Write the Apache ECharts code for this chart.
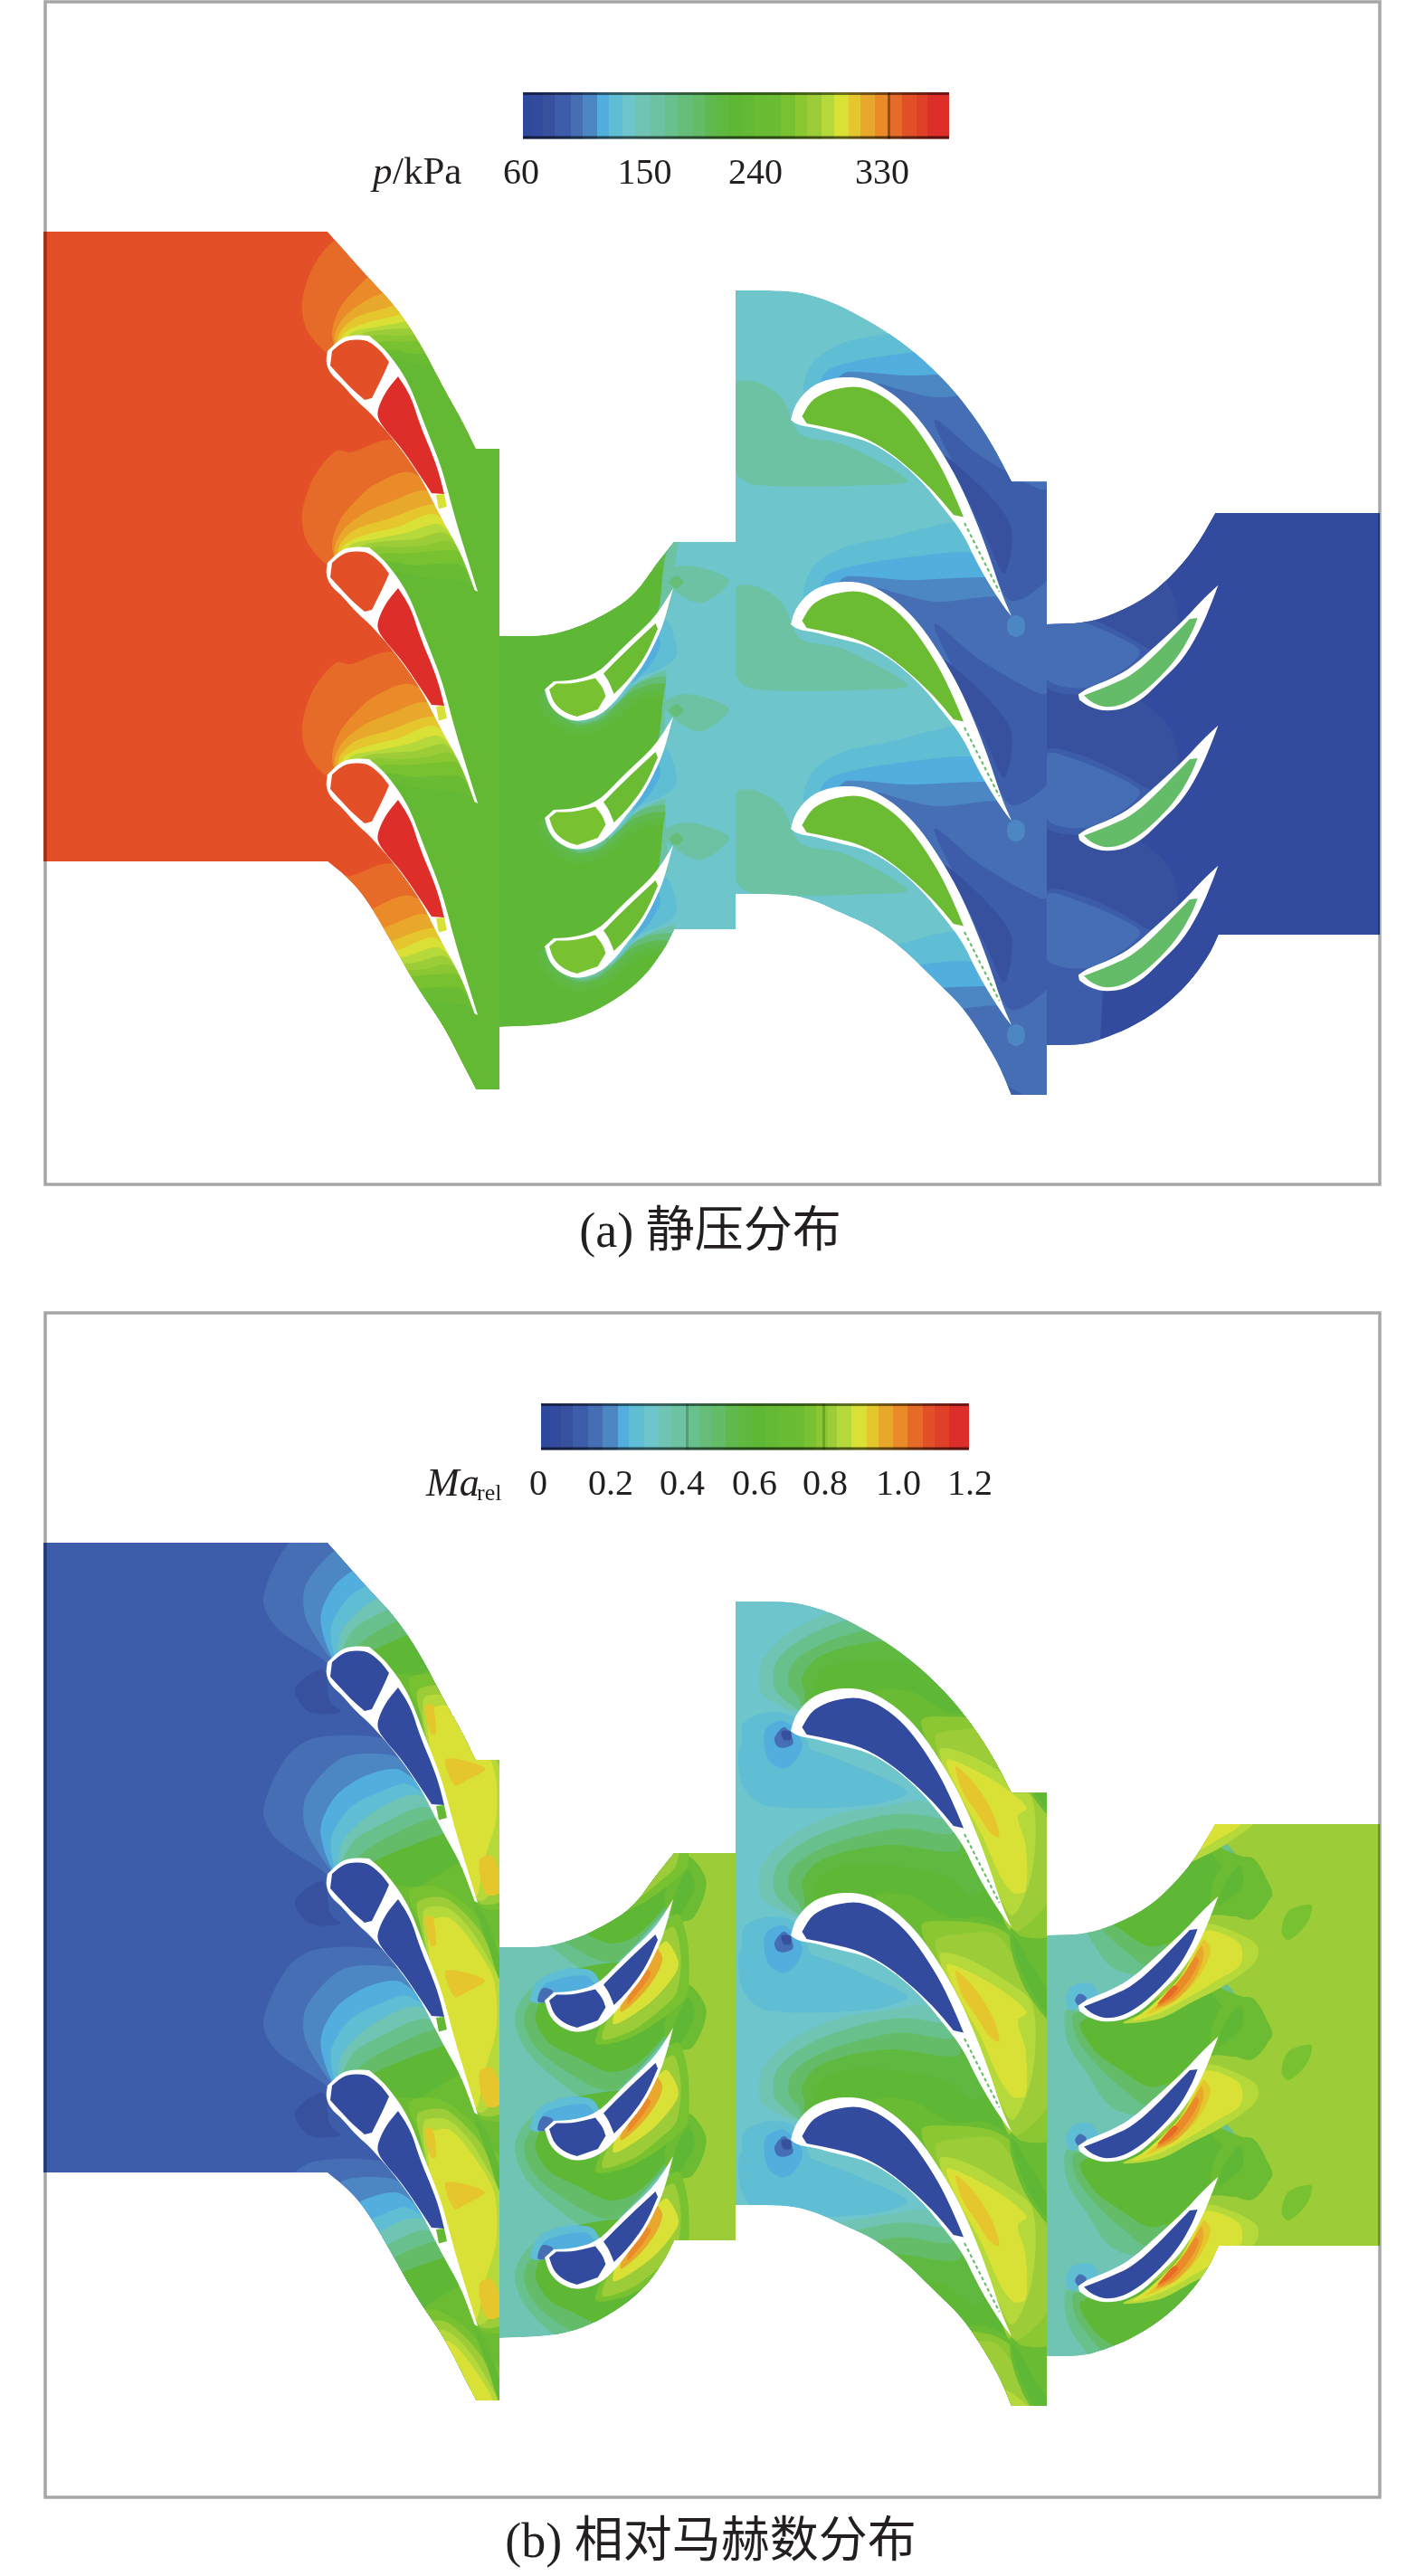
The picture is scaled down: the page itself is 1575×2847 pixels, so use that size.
<!DOCTYPE html>
<html>
<head>
<meta charset="utf-8">
<title>涡轮级静压与相对马赫数分布</title>
<style>html,body{margin:0;padding:0;background:#fff}#chart{width:1575px;height:2847px}</style>
<script src="https://cdn.jsdelivr.net/npm/echarts@6/dist/echarts.min.js"></script>
</head>
<body>
<div id="chart"></div>
<script>
// 32-level contour palette shared by both fields
const levelColors = ['#2e4a9c','#334b9e','#37519f','#3d5ca9','#456eb4','#4c87c4','#52aedd','#5fbdd4',
  '#6ec5cb','#70c4b4','#6cc2a2','#68c08c','#65bd78','#64bc68','#60b94e','#5fb83f',
  '#5fb736','#63b934','#69bb33','#6cbc33','#78c130','#8bc733','#9ccd38','#b5d83a',
  '#dae136','#e5c62d','#e8a82c','#ea8a28','#e76b28','#e35027','#e03f28','#dd2e29'];

// Colour bars: level boundaries along the bar, ticks and labels
const barStopsP = [578,586.6,600.4,613.4,630.8,644.2,659.8,673.2,688.4,701.8,719.2,734.8,748.7,764.7,778.6,791.5,806.3,819.6,833,848.7,863,879,892,908,921.9,938,951,967,984,997,1012.5,1025,1049];
const barStopsMa = [598,607.5,620,633.4,650,666.4,683,695.4,712.4,728.4,742.3,759.3,774,787,802,815.3,830.7,845.5,859.7,874.5,888.8,902,914.5,925.3,941,958,970.5,987,1003,1020,1032.5,1048.6,1071];
const tickLabelsP = ['60','150','240','330'];
const tickXP = [576,712.5,835,975];
const tickLabelsMa = ['0','0.2','0.4','0.6','0.8','1.0','1.2'];
const tickXMa = [595,675,754,834,912,993,1072];

// Local mesh sheets: scale and origin of the measured passage drawings
const sheet = (sx, sy, ox, oy) => list => list.map(p => [ox + p[0] / sx, oy + p[1] / sy]);
const sheetA2 = sheet(1.96, 2.01, 0, 650);
const sheetB2 = sheet(1.96, 2.187, 0, 2130);
const sheetB3 = sheet(1.972, 2.187, 780, 2130);

// Domain outlines of the four blade rows
const outlineRow1 = [[48,256],[362,256],[408,308],[434,335],[462,375],[490,429],[510,464],[525.5,496],[552,496],[552,1204],[526.5,1204],[510,1172],[490,1132.6],[459,1088],[434,1043],[408,998],[388,973],[362,952],[48,952]];
const outlineRow2 = [[552,703],[602,703],[633,695],[663,682],[699,660],[724,625],[745,599],[813,599],[813,1027],[745,1027],[735,1048],[714,1078],[684,1103],[648,1122.6],[612,1132.6],[552,1135]];
const outlineRow3 = [[813,321],[875,321],[907,329],[937,341.5],[983,368],[1018,395],[1054,431],[1079,464],[1099,495.5],[1118,532.6],[1157,532.6],[1157,1210],[1118,1210],[1104.5,1177],[1084,1142.5],[1064,1112.7],[1033.5,1083],[998,1048],[962.5,1023],[927,1008],[902,996],[871,988],[813,988]];
const outlineRow4 = [[1157,690],[1196,689],[1226,681],[1267,661],[1297,634],[1322.6,603],[1343,567],[1525,567],[1525,1033],[1347,1033],[1338,1053],[1317.5,1083],[1287,1112.7],[1251.6,1135],[1221,1147.5],[1196,1155],[1157,1155]];
const panelShift = 1449;

// Blade sections: white wall outline and the solid cavities inside it
const bladeRow1Wall = [[362,388],[377.5,373],[393,370],[408,371],[423.5,384],[434,397],[444,411],[454,429],[464,455],[474.5,482],[485,509],[492,531],[502.5,571],[515,612],[528,654],[524.5,652],[510,612],[484.7,567],[467,531],[449,504],[428.6,478],[408,455],[393,442],[377.5,424],[365,413],[360,400]];
const bladeRow1Front = [[367,388],[380,377],[395,375],[408,377],[421,388],[430,400],[423.5,415],[411,440],[403,442],[390,431],[375,415],[365,404]];
const bladeRow1Rear = [[440,416],[454,437.5],[464,469],[477,500],[485,522],[491,546],[477,545],[462,522],[444,495.5],[428.6,478],[418,464],[417,453],[426,433]];
const bladeRow1Tail = [[482,547],[491,546],[494,560],[485,562.5]];
const bladeRow2Wall = [[602,762],[612,753],[632.7,752],[660.7,744.5],[689,714.7],[724.5,682],[744,650],[734.7,685],[727,704.7],[711.7,734.6],[694,757],[678.6,777],[660.7,792],[637.8,798],[620,792],[607,779]];
const bladeRow2Front = [[607,762],[615,755.5],[632.7,755.5],[658,749.5],[666,759.5],[669.4,769.4],[660.7,784],[637.8,792],[625,788],[612,777]];
const bladeRow2Rear = [[667,744.5],[689,722],[724.5,689],[727,695],[714,724.6],[694,752],[678.6,767],[672.4,752]];
const bladeRow3Wall = [[874,464],[879,446],[897,426],[922,417],[952.4,417],[978,428.6],[1003,448.6],[1023.4,473],[1043.7,504],[1061.4,535.7],[1079,576],[1094,616],[1107,656],[1118,681],[1112,674],[1094,647],[1079,620.5],[1064,589],[1043.7,562.5],[1018,531],[988,504.5],[957.5,486.6],[927,480],[901.7,473],[881.4,469.6]];
const bladeRow3Core = [[886.5,460],[896.6,442],[917,431],[947.3,426],[972.7,435],[998,455],[1018,480],[1038.6,513],[1053.8,544.6],[1065,571.4],[1053.8,569],[1033.6,544.6],[1008,520],[977.8,495.5],[947.3,480],[917,473],[891.6,468]];
const bladeRow3Slot = [[1066,578],[1104.5,654]];
const bladeRow4Wall = [[1191.8,922.6],[1201,916],[1226,906],[1249,894],[1277,869],[1307.4,841.5],[1330,816.7],[1346.4,801.7],[1340,819],[1327.7,849],[1307.4,884],[1282,908.7],[1261.7,928.6],[1241.5,938.6],[1221,941],[1203.4,936],[1193,928.6]];
const bladeRow4Core = [[1198,923.6],[1226,912.7],[1251.6,901],[1279.5,876],[1315,839],[1323.6,838],[1317.5,854],[1302,881],[1279.5,906],[1259,923.6],[1239,934.6],[1221,937],[1206,931]];
const pitchRow1 = [0,234,468];
const pitchRow2 = [0,142,284];
const pitchRow3 = [0,226,452];
const pitchRow4 = [-155,0,155];

// Passage closures running through the neighbouring blades and past the outlet
const closeRow1 = [[516,620],[530,654],[560,654],[560,888],[530,888],[505,830],[478,735],[455,680],[430,640],[400,620],[375,625]];
const closeRow3 = [[1094,640],[1118,681],[1170,681],[1170,907],[1118,907],[1085,820],[1040,756],[1000,696],[950,676],[900,676]];
const up = (pts, dy) => pts.map(p => [p[0], p[1] + dy]);

// Static pressure contours, stator passage (levels upstream to downstream)
const pressureRow1 = [
  [28,[[362,625],[339,598],[334,567],[347,527],[372,498],[388,500],[423,487],[445,490],[495,560]].concat(closeRow1)],
  [27,[[367,603],[375,576],[393,553.6],[413,536],[454,522],[495,560]].concat(closeRow1)],
  [26,[[370,605],[380,585],[403,567],[434,553.6],[469,542],[495,560]].concat(closeRow1)],
  [25,[[375,603],[393,585],[428.6,573.7],[474.5,558],[495,565]].concat(closeRow1)],
  [24,[[380,603],[403,591.5],[439,582.6],[482,569]].concat(closeRow1)],
  [23,[[388,602],[413,596],[449,589],[487,580]].concat(closeRow1)],
  [22,[[400,603],[428.6,598],[459,596],[492,589]].concat(closeRow1)],
  [21,[[413,605],[439,605],[469,603],[497,598]].concat(closeRow1)],
  [20,[[423.5,611.6],[449,611.6],[479.6,609],[505,609]].concat(closeRow1)],
  [18,[[431,620.5],[459,625],[485,623],[510,625]].concat(closeRow1.slice(1))],
  [17,[[439,632],[469,638],[513,643]].concat(closeRow1.slice(1))]
];
const pressureRow1Offsets = [-234,0,234,468];

// Static pressure contours, first rotor passage
const pressureRow2 = [
  [15,sheetA2([[1165,240],[1180,285],[1240,325],[1310,310],[1385,250],[1430,240],[1460,245],[1640,245],[1640,-50],[1458,-50],[1420,70],[1350,135],[1295,195],[1240,215],[1190,225]])],
  [14,sheetA2([[1175,235],[1195,280],[1245,310],[1305,298],[1375,240],[1430,225],[1465,232],[1640,232],[1640,-60],[1458,-60],[1420,70],[1350,135],[1295,195],[1240,215],[1190,225]])],
  [12,sheetA2([[1180,235],[1205,275],[1250,303],[1300,292],[1365,232],[1420,212],[1470,215],[1640,215],[1640,-80],[1458,-80],[1420,70],[1350,135],[1295,195],[1240,215],[1190,225]])],
  [10,sheetA2([[1190,235],[1215,275],[1255,298],[1300,286],[1355,228],[1410,200],[1465,195],[1640,195],[1640,-100],[1458,-100],[1420,70],[1350,135],[1295,195],[1240,215]])]
];
const pressureRow2Outer = [[752,585],[830,585],[830,1040],[748,1040]];
const pressureRow2Near = [
  [8,sheetA2([[1320,270],[1375,215],[1420,190],[1468,170],[1500,100],[1470,-10],[1440,70],[1380,170]])],
  [7,sheetA2([[1340,255],[1385,200],[1430,180],[1465,150],[1455,90],[1440,70],[1425,100],[1395,170]])],
  [6,sheetA2([[1370,210],[1405,175],[1430,130],[1425,105],[1395,170]])]
];
const pressureRow2Wake = [
  [10,sheetA2([[1437,260],[1465,238],[1520,240],[1580,270],[1520,318],[1465,295]])],
  [12,sheetA2([[1450,272],[1465,258],[1480,272],[1465,286]])]
];
const pressureRow2Offsets = [-142,0,142,284];

// Static pressure contours, second stator passage
const pressureRow3Lobe = [[814,424],[836,422],[864,440],[885,480],[932,491],[1003,531],[968,536],[836,536],[814,522]];
const pressureRow3 = [
  [7,[[888,657],[899,626],[932,605],[983,594],[1047,578],[1068,580]].concat(closeRow3)],
  [6,[[912,638],[937,627],[1003,616],[1080,612]].concat(closeRow3)],
  [5,[[925,645],[937,637],[1003,641],[1084,638]].concat(closeRow3)],
  [4,[[965,650],[993,656],[1034,665],[1110,660]].concat(closeRow3.slice(1))],
  [3,[[1033,690],[1084,730],[1150,767],[1170,767],[1170,850],[1118,890],[1090,830],[1064,760]]],
  [2,[[1044,730],[1090,770],[1118,810],[1110,860],[1090,820],[1060,760]]]
];
const pressureRow3Offsets = [-226,0,226,452];
const pressureRow3Vortex = [[1115,684],[1123,680],[1131,684],[1133,692],[1131,700],[1123,704],[1115,700],[1113,692]];

// Static pressure contours, second rotor passage
const pressureRow4Inlet = [[1157,680],[1200,680],[1215,1160],[1157,1160]];
const pressureRow4 = [
  [2,[[1157,760],[1230,760],[1290,800],[1300,850],[1240,900],[1157,900]]],
  [3,[[1157,830],[1196,835],[1240,855],[1267,871],[1290,880],[1250,915],[1157,915]]],
  [4,[[1157,834],[1190,840],[1236,859],[1260,875],[1245,893],[1200,915],[1157,905]]]
];
const pressureRow4Offsets = [-155,0,155];

// Relative Mach number contours, stator passage
const closeRow1Ma = up(closeRow1, panelShift);
const machRow1Lens = [[326,2101],[357,2079],[365,2115],[377,2126],[342,2126]];
const machRow1 = [
  [4,[[362,2073],[357,2068],[306,2033],[291,2001],[316,1943],[347,1921],[418,1920],[445,1939],[495,2009]].concat(closeRow1Ma)],
  [5,[[360,2059.5],[337,2019],[339,1983.6],[377.5,1943],[428.6,1939],[450,1950],[495,2009]].concat(closeRow1Ma)],
  [6,[[362,2055],[354.6,2019],[372.4,1983.6],[408,1961],[444,1957],[495,2009]].concat(closeRow1Ma)],
  [7,[[367,2053],[367,2028],[388,1997],[423.5,1979],[451.5,1972],[495,2009]].concat(closeRow1Ma)],
  [9,[[375,2048],[380,2032.7],[408,2006],[459,1983.6],[495,2009]].concat(closeRow1Ma)],
  [11,[[382.6,2048],[393,2032.7],[423.5,2015],[467,1997],[495,2009]].concat(closeRow1Ma)],
  [13,[[403,2046],[433.7,2028],[477,2010],[498,2015]].concat(closeRow1Ma)],
  [16,[[418,2055],[449,2041.6],[487,2028],[500,2025]].concat(closeRow1Ma)],
  [19,[[460,2085],[480,2075],[505,2060],[512,2060]].concat(closeRow1Ma.slice(1))],
  [20,[[452,2090],[482,2085],[515,2105],[537,2132],[560,2165],[560,2340],[530,2340],[505,2279],[478,2184],[465,2130]]],
  [22,[[462,2102],[490,2097],[510,2111],[530.6,2134],[552,2170],[560,2170],[560,2330],[530,2337],[505,2279],[478,2184],[465,2130]]],
  [23,[[468,2112],[493,2108],[518,2130],[540,2165],[556,2200],[556,2300],[530,2335],[505,2279],[478,2184]]],
  [24,[[474.5,2125],[497,2120],[525.5,2152],[546,2189],[548.5,2243],[535.7,2289],[525.5,2330],[505,2279],[490,2220],[478,2184]]],
  [25,[[492,2179],[510,2179],[536,2189],[515,2202],[502.5,2207]]],
  [25,[[530.6,2289],[543,2285],[552,2303],[552,2326],[538,2328],[530.6,2307]]],
  [25,[[470,2120],[478,2118],[482,2150],[476,2150]]],
  [17,[[524,2338],[535,2351],[552,2396],[552,2421],[540,2386]]]
];
const machRow1Offsets = [-234,0,234,468];

// Relative Mach number contours, first rotor passage
const machRow2Outer = [[750,2040],[820,2040],[820,2490],[746,2490],[752,2300]];
const machRow2 = [
  [11,sheetB2([[1140,470],[1115,530],[1135,600],[1190,665],[1290,740],[1330,720],[1460,560],[1500,520],[1490,470],[1400,400],[1300,400],[1200,430]])],
  [13,sheetB2([[1155,480],[1135,535],[1160,600],[1215,650],[1295,700],[1340,700],[1460,555],[1490,510],[1480,470],[1400,400],[1300,400],[1200,430]])],
  [16,sheetB2([[1170,490],[1160,535],[1190,590],[1250,625],[1320,660],[1380,640],[1455,550],[1470,510],[1460,470],[1400,400],[1300,400],[1200,430]])]
];
const machRow2Cloud = [
  [19,sheetB2([[1455,290],[1440,230],[1490,140],[1530,200],[1500,290]])],
  [16,sheetB2([[1460,240],[1490,170],[1505,210],[1480,270],[1460,290]])],
  [20,sheetB2([[1290,590],[1360,580],[1430,535],[1470,500],[1490,470],[1490,350],[1470,280],[1440,300],[1400,380],[1340,470]])],
  [22,sheetB2([[1305,580],[1370,560],[1430,510],[1465,470],[1475,380],[1460,310],[1430,330],[1390,400],[1340,480]])],
  [24,sheetB2([[1330,545],[1400,500],[1445,450],[1470,400],[1445,345],[1425,360],[1385,420],[1340,490]])],
  [26,sheetB2([[1345,515],[1385,480],[1420,430],[1435,385],[1420,360],[1395,410],[1355,470]])],
  [27,sheetB2([[1360,495],[1395,450],[1410,420],[1395,415],[1365,465]])]
];
const machRow2Nose = [
  [7,sheetB2([[1150,490],[1165,440],[1220,412],[1285,418],[1300,470],[1200,490]])],
  [6,sheetB2([[1165,480],[1185,445],[1270,428],[1292,470],[1180,490]])],
  [4,sheetB2([[1165,490],[1175,458],[1198,465],[1185,490]])]
];
const machRow2Offsets = [-284,-142,0,142];
const machRow2NoseOffsets = [-142,0,142];

// Relative Mach number contours, second stator passage
const closeRow3Ma = sheetB3([[560,250],[620,400],[668,497],[760,497],[760,1000],[668,1000],[620,860],[565,730],[520,620],[450,530],[380,460],[300,440],[220,470]]);
const machRow3Pressure = sheetB3([[80,50],[210,60],[380,130],[440,170],[350,200],[130,200],[80,150]]);
const machRow3 = [
  [9,sheetB3([[175,460],[120,420],[125,340],[190,270],[290,220],[400,200],[480,190]]).concat(closeRow3Ma)],
  [11,sheetB3([[185,450],[150,410],[155,345],[220,285],[310,245],[420,220],[505,230]]).concat(closeRow3Ma)],
  [13,sheetB3([[200,430],[180,400],[190,350],[250,305],[330,275],[430,255],[530,270]]).concat(closeRow3Ma)],
  [15,sheetB3([[215,420],[210,385],[240,340],[310,310],[410,295],[550,310]]).concat(closeRow3Ma)],
  [16,sheetB3([[240,410],[250,370],[310,345],[400,345],[520,370],[585,420]]).concat(closeRow3Ma.slice(1))],
  [18,sheetB3([[370,420],[450,420],[530,470],[610,470],[668,497],[760,497],[760,1000],[668,1000],[620,860],[565,730],[520,620],[450,530]])],
  [21,sheetB3([[470,490],[540,480],[620,490],[668,520],[760,650],[760,1000],[668,1000],[620,860],[565,730],[520,620]])],
  [22,sheetB3([[500,530],[560,510],[630,510],[670,560],[760,690],[760,900],[668,1000],[620,860],[565,730]])],
  [23,sheetB3([[510,560],[570,570],[650,620],[712,680],[712,850],[668,960],[620,860],[565,730]])],
  [24,sheetB3([[525,585],[580,605],[650,650],[700,700],[680,720],[697,790],[697,900],[670,905],[640,860],[600,760],[560,680]])],
  [25,sheetB3([[545,600],[585,640],[625,710],[640,770],[620,760],[590,710],[560,660]])],
  [18,sheetB3([[665,497],[715,560],[760,640],[760,730],[700,650],[668,560]])],
  [16,sheetB3([[668,510],[705,575],[744,650],[744,700],[705,640],[675,560]])]
];
const machRow3Offsets = [-452,-226,0,226];
const machRow3Stagnation = [
  [7,sheetB3([[80,500],[130,470],[190,480],[230,560],[240,600],[180,630],[100,600]])],
  [6,sheetB3([[130,510],[170,490],[210,540],[200,580],[170,605],[135,580]])],
  [4,sheetB3([[150,530],[170,505],[185,520],[190,545],[170,555],[155,550]])],
  [2,sheetB3([[165,515],[185,515],[185,535],[170,535]])]
];
const machRow3StagnationOffsets = [-452,-226,0];

// Relative Mach number contours, second rotor passage
const machRow4Inlet = [[1157,2130],[1182,2130],[1182,2610],[1157,2610]];
const machRow4Wedge = [[9,sheetB3([[740,520],[830,520],[990,790],[900,880],[740,880]])]];
const machRow4 = [
  [11,sheetB3([[785,540],[790,620],[830,690],[880,770],[940,790],[1030,700],[1115,600],[1180,560],[1130,470],[1060,440],[1000,500],[900,560],[830,545]])],
  [13,sheetB3([[800,550],[810,610],[860,680],[910,730],[965,770],[1030,700],[1115,600],[1170,570],[1120,480],[1060,440],[1000,500],[900,560],[830,545]])],
  [19,sheetB3([[1000,720],[1100,650],[1170,650],[1235,600],[1190,520],[1130,490],[1060,440],[1000,500],[950,600]])],
  [16,sheetB3([[815,575],[850,640],[900,680],[970,725],[1030,700],[1115,610],[1160,580],[1110,510],[1060,440],[1000,500],[900,560],[840,555]])]
];
const machRow4Cloud = [
  [23,sheetB3([[910,570],[990,560],[1060,520],[1130,480],[1200,420],[1200,380],[1130,340],[1090,335],[1050,440],[980,530]])],
  [24,sheetB3([[930,565],[990,545],[1050,510],[1110,470],[1165,430],[1165,380],[1115,350],[1085,350],[1040,450],[970,530]])],
  [25,sheetB3([[960,550],[1010,525],[1060,480],[1090,430],[1100,390],[1085,370],[1045,450],[990,520]])],
  [26,sheetB3([[980,535],[1025,515],[1065,465],[1085,410],[1080,385],[1045,450],[1000,510]])],
  [27,sheetB3([[985,530],[1020,510],[1055,465],[1075,420],[1068,410],[1040,455],[1000,510]])],
  [28,sheetB3([[985,525],[1010,510],[1030,485],[1020,480],[995,510]])]
];
const machRow4Wake = [
  [20,sheetB3([[1255,350],[1270,300],[1320,285],[1310,330],[1270,370]])],
  [19,sheetB3([[1100,290],[1120,200],[1190,170],[1230,260],[1190,320],[1130,300]])],
  [16,sheetB3([[1115,290],[1130,235],[1165,190],[1170,240],[1130,280]])]
];
const machRow4Nose = [
  [7,sheetB3([[785,510],[800,480],[840,475],[855,505],[815,530],[795,540]])],
  [4,sheetB3([[805,515],[815,500],[830,510],[815,530]])]
];
const machRow4Offsets = [-310,-155,0,155];
const machRow4NoseOffsets = [-155,0,155];

// Corner-preserving curve refinement for domain and blade outlines
function rounded(pts) {
  const n = pts.length;
  let list = pts.map((p, i) => {
    const a = pts[(i + n - 1) % n], b = pts[(i + 1) % n];
    const t1 = Math.atan2(p[1] - a[1], p[0] - a[0]), t2 = Math.atan2(b[1] - p[1], b[0] - p[0]);
    let turn = Math.abs(t2 - t1);
    if (turn > Math.PI) turn = 2 * Math.PI - turn;
    return [p[0], p[1], turn > 0.6 ? 1 : 0];
  });
  for (let it = 0; it < 2; it++) {
    const out = [];
    list.forEach((a, i) => {
      const b = list[(i + 1) % list.length];
      out.push(a[2] ? a : [a[0] * 0.75 + b[0] * 0.25, a[1] * 0.75 + b[1] * 0.25, 0]);
      out.push(b[2] ? b : [a[0] * 0.25 + b[0] * 0.75, a[1] * 0.25 + b[1] * 0.75, 0]);
    });
    list = out;
  }
  return list;
}

// Flatten everything to one ordered draw list
const draws = [];
const expand = (bands, offsets) => {
  const out = [];
  bands.forEach(b => offsets.forEach(o => out.push({ level: b[0], pts: up(b[1], o) })));
  return out;
};
function addRow(outline, dy, base, bands) {
  draws.push({ kind: 'row', outline: rounded(up(outline, dy)), base, bands });
}
function addBlades(wall, cores, offsets, dy, slot, slotColor) {
  offsets.forEach(o => {
    draws.push({ kind: 'solid', pts: rounded(up(wall, o + dy)), color: '#fff' });
    cores.forEach(c => draws.push({ kind: 'solid', pts: rounded(up(c[1], o + dy)), color: levelColors[c[0]] }));
    if (slot) draws.push({ kind: 'slot', pts: up(slot, o + dy), color: slotColor });
  });
}

// Static pressure panel
addRow(outlineRow1, 0, 29, expand(pressureRow1, pressureRow1Offsets));
addRow(outlineRow2, 0, 16, expand(pressureRow2, pressureRow2Offsets)
  .concat([{ level: 8, pts: pressureRow2Outer }])
  .concat(expand(pressureRow2Near, pressureRow2Offsets))
  .concat(expand(pressureRow2Wake, [-142, 0, 142])));
addRow(outlineRow3, 0, 8, expand([[10, pressureRow3Lobe]], pitchRow3)
  .concat(expand(pressureRow3, pressureRow3Offsets))
  .concat(expand([[5, pressureRow3Vortex]], pitchRow3)));
addRow(outlineRow4, 0, 1, [{ level: 3, pts: pressureRow4Inlet }].concat(expand(pressureRow4, pressureRow4Offsets)));
addBlades(bladeRow1Wall, [[29, bladeRow1Front], [31, bladeRow1Rear], [24, bladeRow1Tail]], pitchRow1, 0);
addBlades(bladeRow2Wall, [[20, bladeRow2Front], [19, bladeRow2Rear]], pitchRow2, 0);
addBlades(bladeRow3Wall, [[19, bladeRow3Core]], pitchRow3, 0, bladeRow3Slot, levelColors[13]);
addBlades(bladeRow4Wall, [[13, bladeRow4Core]], pitchRow4, 0);

// Relative Mach number panel
addRow(outlineRow1, panelShift, 3, expand([[2, machRow1Lens]], [-234, 0, 234]).concat(expand(machRow1, machRow1Offsets)));
addRow(outlineRow2, panelShift, 9, [{ level: 22, pts: machRow2Outer }]
  .concat(expand(machRow2, machRow2Offsets))
  .concat(expand(machRow2Cloud, machRow2Offsets))
  .concat(expand(machRow2Nose, machRow2NoseOffsets)));
addRow(outlineRow3, panelShift, 8, expand([[7, machRow3Pressure]], machRow3Offsets)
  .concat(expand(machRow3, machRow3Offsets))
  .concat(expand(machRow3Stagnation, machRow3StagnationOffsets)));
addRow(outlineRow4, panelShift, 22, [{ level: 9, pts: machRow4Inlet }]
  .concat(expand(machRow4Wedge, machRow4Offsets))
  .concat(expand(machRow4, machRow4Offsets))
  .concat(expand(machRow4Cloud, machRow4Offsets))
  .concat(expand(machRow4Wake, machRow4NoseOffsets))
  .concat(expand(machRow4Nose, machRow4NoseOffsets)));
addBlades(bladeRow1Wall, [[1, bladeRow1Front], [1, bladeRow1Rear], [17, bladeRow1Tail]], pitchRow1, panelShift);
addBlades(bladeRow2Wall, [[1, bladeRow2Front], [1, bladeRow2Rear]], pitchRow2, panelShift);
addBlades(bladeRow3Wall, [[1, bladeRow3Core]], pitchRow3, panelShift, bladeRow3Slot, levelColors[13]);
addBlades(bladeRow4Wall, [[1, bladeRow4Core]], pitchRow4, panelShift);

// Colour bars
function addBar(stops, top, bottom, tickX, tickShade) {
  stops.slice(0, -1).forEach((x, i) => draws.push({ kind: 'box', x0: x, x1: stops[i + 1], y0: top, y1: bottom, color: levelColors[i] }));
  const a = stops[0], b = stops[stops.length - 1];
  draws.push({ kind: 'box', x0: a, x1: b, y0: top, y1: top + 3, color: 'rgba(0,0,0,0.5)' });
  draws.push({ kind: 'box', x0: a, x1: b, y0: bottom - 3, y1: bottom, color: 'rgba(0,0,0,0.6)' });
  tickX.forEach(x => draws.push({ kind: 'box', x0: x - 1.5, x1: x + 1.5, y0: top, y1: bottom, color: tickShade }));
}
addBar(barStopsP, 102, 153.5, [982], 'rgba(0,0,0,0.42)');
addBar(barStopsMa, 1551, 1602.5, [759, 910], 'rgba(0,40,0,0.22)');

// Panel frames
[[50, 2, 1525, 1309], [50, 1451, 1525, 2760]].forEach(f => draws.push({ kind: 'frame', f }));

// Text
const serif = "'Liberation Serif','Noto Sans CJK SC'";
const addText = (text, x, y, size, align, italic) => draws.push({ kind: 'text', text, x, y, size, align, italic });
tickLabelsP.forEach((t, i) => addText(t, tickXP[i], 192, 40, 'center'));
tickLabelsMa.forEach((t, i) => addText(t, tickXMa[i], 1641, 40, 'center'));
addText('p', 412, 192, 43, 'left', true);
addText('/kPa', 434, 192, 43, 'left');
addText('Ma', 471, 1641, 44, 'left', true);
addText('rel', 527, 1651, 26, 'left');
addText('(a) 静压分布', 785, 1364, 54, 'center');
addText('(b) 相对马赫数分布', 785.5, 2812, 54, 'center');

function renderItem(params, api) {
  const d = draws[params.dataIndex];
  const px = pts => pts.map(p => api.coord([p[0], p[1]]));
  if (d.kind === 'row') {
    const outline = px(d.outline);
    return {
      type: 'group',
      clipPath: { type: 'polygon', shape: { points: outline } },
      children: [{ type: 'polygon', shape: { points: outline }, style: { fill: levelColors[d.base] } }]
        .concat(d.bands.map(b => ({
          type: 'polygon',
          shape: { points: px(b.pts), smooth: 0.3 },
          style: { fill: levelColors[b.level] }
        })))
    };
  }
  if (d.kind === 'solid') {
    return { type: 'polygon', shape: { points: px(d.pts) }, style: { fill: d.color } };
  }
  if (d.kind === 'slot') {
    return { type: 'polyline', shape: { points: px(d.pts) }, style: { fill: null, stroke: d.color, lineWidth: 2, lineDash: [4, 3] } };
  }
  if (d.kind === 'box') {
    const p0 = api.coord([d.x0, d.y0]), p1 = api.coord([d.x1, d.y1]);
    const x0 = Math.round(p0[0]), x1 = Math.round(p1[0]);
    return { type: 'rect', shape: { x: x0, y: p0[1], width: x1 - x0, height: p1[1] - p0[1] }, style: { fill: d.color } };
  }
  if (d.kind === 'frame') {
    const p0 = api.coord([d.f[0], d.f[1]]), p1 = api.coord([d.f[2], d.f[3]]);
    return { type: 'rect', shape: { x: p0[0], y: p0[1], width: p1[0] - p0[0], height: p1[1] - p0[1] }, style: { fill: null, stroke: 'rgba(0,0,8,0.35)', lineWidth: 3.5 } };
  }
  const p = api.coord([d.x, d.y]);
  return {
    type: 'text',
    style: {
      text: d.text, x: p[0], y: p[1], fill: '#231f20',
      font: (d.italic ? 'italic ' : '') + d.size + 'px ' + serif,
      textAlign: d.align, textVerticalAlign: 'middle'
    }
  };
}

const chart = echarts.init(document.getElementById('chart'), null, { renderer: 'canvas' });
chart.setOption({
  animation: false,
  backgroundColor: '#fff',
  grid: { left: 0, right: 0, top: 0, bottom: 0 },
  xAxis: { type: 'value', min: 0, max: 1575, show: false },
  yAxis: { type: 'value', min: 0, max: 2847, inverse: true, show: false },
  series: [{
    type: 'custom',
    coordinateSystem: 'cartesian2d',
    clip: false,
    silent: true,
    renderItem,
    data: draws.map((d, i) => [i, 0])
  }]
});
</script>
</body>
</html>
